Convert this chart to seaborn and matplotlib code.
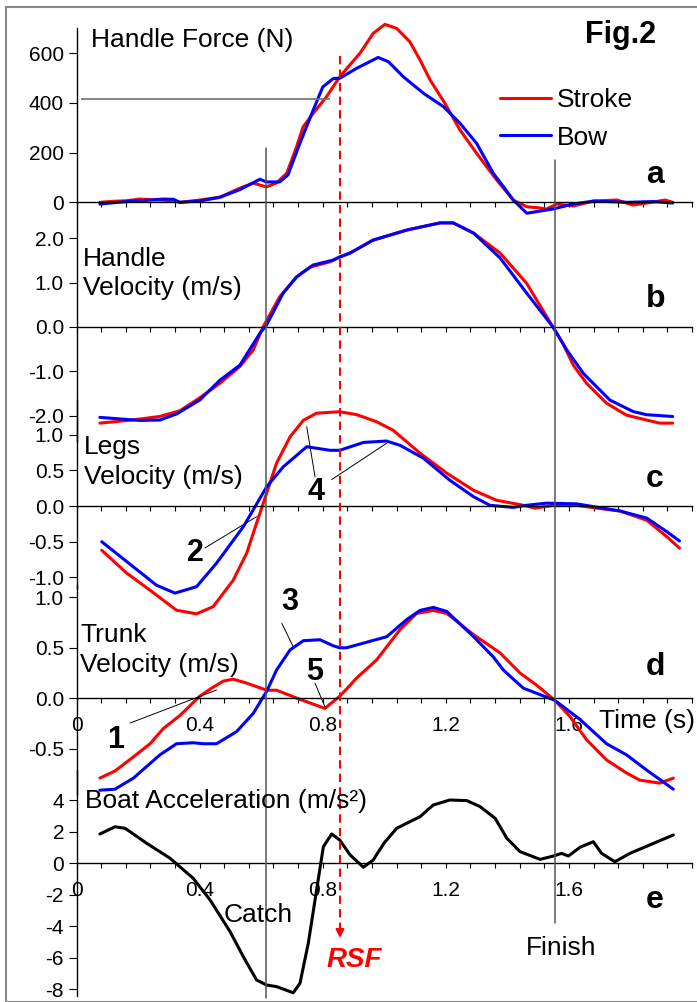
import numpy as np
import matplotlib
matplotlib.use("Agg")
import matplotlib.pyplot as plt
import seaborn as sns
from matplotlib.lines import Line2D
from matplotlib.patches import Rectangle
from matplotlib.transforms import blended_transform_factory

# ---- data (time in s) ----
force_t_stroke = [0.076, 0.12, 0.16, 0.206, 0.25, 0.29, 0.336, 0.4, 0.466, 0.531, 0.574, 0.617, 0.65, 0.683,
                  0.715, 0.736, 0.769, 0.813, 0.855, 0.921, 0.964, 1.002, 1.04, 1.083, 1.116, 1.149, 1.197,
                  1.246, 1.3, 1.365, 1.419, 1.463, 1.5, 1.527, 1.56, 1.613, 1.68, 1.756, 1.808, 1.873,
                  1.912, 1.937]
force_stroke = [0, 4, 6, 13, 10, 8, 0, 9, 21, 57, 77, 62, 78, 117, 223, 303, 358, 426, 505, 600, 680,
                716, 700, 646, 573, 492, 398, 291, 197, 90, 9, -18, -22, -27, -7, -15, 5, 9, -11, 1, 9, 0]
force_t_bow = [0.076, 0.12, 0.17, 0.23, 0.282, 0.315, 0.336, 0.4, 0.466, 0.531, 0.596, 0.617, 0.66, 0.687,
               0.726, 0.769, 0.8, 0.834, 0.855, 0.91, 0.98, 1.013, 1.062, 1.127, 1.192, 1.246, 1.3, 1.354,
               1.387, 1.419, 1.463, 1.548, 1.613, 1.68, 1.79, 1.873, 1.937]
force_bow = [-7, -2, 4, 8, 13, 12, 0, 5, 20, 51, 93, 82, 82, 110, 238, 371, 464, 498, 499, 539, 583, 566,
             505, 439, 385, 318, 237, 117, 63, 9, -44, -27, -7, 5, 0, 3, -3]
force_avg = 416

hv_t_stroke = [0.076, 0.18, 0.27, 0.336, 0.4, 0.466, 0.531, 0.574, 0.606, 0.66, 0.715, 0.758, 0.823, 0.855,
               0.889, 0.963, 1.074, 1.181, 1.224, 1.29, 1.376, 1.462, 1.548, 1.58, 1.614, 1.657, 1.722,
               1.787, 1.852, 1.895, 1.937]
hv_stroke = [-2.17, -2.10, -2.02, -1.89, -1.6, -1.27, -0.89, -0.52, 0.0, 0.68, 1.13, 1.35, 1.47, 1.58, 1.67,
             1.96, 2.19, 2.35, 2.35, 2.12, 1.67, 0.99, 0.0, -0.37, -0.86, -1.27, -1.72, -1.99, -2.10, -2.17,
             -2.17]
hv_t_bow = [0.076, 0.206, 0.271, 0.326, 0.4, 0.466, 0.531, 0.596, 0.617, 0.671, 0.715, 0.769, 0.834, 0.855,
            0.889, 0.963, 1.074, 1.181, 1.224, 1.29, 1.376, 1.462, 1.548, 1.593, 1.647, 1.733, 1.809, 1.852,
            1.937]
hv_bow = [-2.04, -2.11, -2.10, -1.96, -1.65, -1.2, -0.86, -0.14, 0.04, 0.76, 1.13, 1.4, 1.51, 1.58, 1.67,
          1.96, 2.19, 2.35, 2.35, 2.12, 1.56, 0.77, 0.0, -0.52, -1.05, -1.65, -1.91, -1.98, -2.02]

legs_t_stroke = [0.082, 0.163, 0.239, 0.325, 0.39, 0.444, 0.509, 0.553, 0.585, 0.607, 0.65, 0.694, 0.737,
                 0.78, 0.855, 0.91, 0.975, 1.029, 1.116, 1.203, 1.29, 1.365, 1.452, 1.49, 1.55, 1.625, 1.69,
                 1.766, 1.853, 1.918, 1.959]
legs_stroke = [-0.62, -0.94, -1.18, -1.46, -1.51, -1.41, -1.04, -0.66, -0.24, 0.04, 0.60, 0.97, 1.20, 1.30,
               1.32, 1.28, 1.18, 1.06, 0.74, 0.46, 0.22, 0.08, 0.01, -0.03, 0.01, 0.01, -0.03, -0.07, -0.2,
               -0.43, -0.59]
legs_t_bow = [0.082, 0.184, 0.26, 0.32, 0.39, 0.455, 0.542, 0.618, 0.672, 0.748, 0.824, 0.855, 0.932, 1.007,
              1.051, 1.127, 1.213, 1.29, 1.343, 1.419, 1.462, 1.527, 1.625, 1.766, 1.853, 1.918, 1.959]
legs_bow = [-0.5, -0.85, -1.11, -1.22, -1.13, -0.80, -0.29, 0.27, 0.55, 0.83, 0.78, 0.78, 0.89, 0.91, 0.85,
            0.67, 0.36, 0.13, 0.01, -0.02, 0.01, 0.04, 0.03, -0.07, -0.17, -0.36, -0.49]

trunk_t_stroke = [0.076, 0.125, 0.185, 0.239, 0.282, 0.336, 0.4, 0.444, 0.477, 0.509, 0.553, 0.618, 0.65,
                  0.726, 0.807, 0.855, 0.889, 0.91, 0.975, 1.051, 1.105, 1.159, 1.203, 1.29, 1.376, 1.441,
                  1.495, 1.554, 1.603, 1.657, 1.722, 1.787, 1.83, 1.895, 1.939]
trunk_stroke = [-0.79, -0.72, -0.58, -0.45, -0.30, -0.17, 0.02, 0.11, 0.17, 0.19, 0.15, 0.08, 0.08, -0.01,
                -0.10, 0.02, 0.13, 0.20, 0.38, 0.68, 0.84, 0.87, 0.84, 0.63, 0.45, 0.25, 0.13, -0.02, -0.18,
                -0.41, -0.61, -0.74, -0.81, -0.84, -0.79]
trunk_t_bow = [0.076, 0.125, 0.185, 0.271, 0.325, 0.379, 0.412, 0.455, 0.52, 0.574, 0.618, 0.65, 0.694,
               0.737, 0.791, 0.834, 0.855, 0.877, 1.008, 1.073, 1.116, 1.159, 1.203, 1.29, 1.354, 1.387,
               1.419, 1.452, 1.554, 1.636, 1.722, 1.787, 1.852, 1.939]
trunk_bow = [-0.91, -0.90, -0.79, -0.56, -0.45, -0.44, -0.45, -0.45, -0.33, -0.15, 0.07, 0.28, 0.48, 0.57,
             0.58, 0.52, 0.50, 0.50, 0.61, 0.78, 0.87, 0.90, 0.86, 0.61, 0.41, 0.28, 0.19, 0.10, -0.02, -0.21,
             -0.45, -0.56, -0.71, -0.90]

acc_t = [0.076, 0.125, 0.158, 0.228, 0.304, 0.379, 0.434, 0.499, 0.542, 0.585, 0.618, 0.65, 0.704, 0.726,
         0.753, 0.78, 0.802, 0.829, 0.855, 0.889, 0.932, 0.964, 0.98, 1.0, 1.04, 1.083, 1.116, 1.159, 1.213,
         1.268, 1.311, 1.36, 1.398, 1.441, 1.506, 1.549, 1.576, 1.598, 1.636, 1.679, 1.706, 1.749, 1.798,
         1.939]
acc = [1.86, 2.32, 2.22, 1.27, 0.32, -0.95, -2.33, -4.34, -5.93, -7.41, -7.73, -7.83, -8.22, -7.62, -5.08,
       -1.7, 1.05, 1.86, 1.48, 0.53, -0.25, 0.21, 0.7, 1.3, 2.22, 2.64, 2.96, 3.7, 4.02, 3.98, 3.6, 2.86,
       1.59, 0.74, 0.25, 0.46, 0.63, 0.46, 1.02, 1.37, 0.63, 0.1, 0.63, 1.8]

catch_t = 0.617
finish_t = 1.553
rsf_t = 0.856

x_ticks = [0, 0.4, 0.8, 1.2, 1.6]
x_tick_labels = ['0', '0.4', '0.8', '1.2', '1.6']
force_ticks = [0, 200, 400, 600]
hv_ticks = [2.0, 1.0, 0.0, -1.0, -2.0]
legs_ticks = [1.0, 0.5, 0.0, -0.5, -1.0]
trunk_ticks = [1.0, 0.5, 0.0, -0.5]
acc_ticks = [4, 2, 0, -2, -4, -6, -8]

RED = '#FF0000'
BLUE = '#0000FF'

sns.set_theme(style='ticks')
plt.rcParams['font.family'] = ['Liberation Sans', 'DejaVu Sans']
plt.rcParams['text.color'] = 'black'
plt.rcParams['xtick.color'] = 'black'
plt.rcParams['ytick.color'] = 'black'
plt.rcParams['xtick.labelcolor'] = 'black'
plt.rcParams['ytick.labelcolor'] = 'black'

W, H = 697, 1002
X0, X1 = 76.5, 692.1
fig = plt.figure(figsize=(W / 100, H / 100), dpi=100)


def fy(py):
    return 1 - py / H


def add_panel(ylim, zero_px, ppu, yticks, fmt, xlabels=False):
    pb = zero_px - ylim[0] * ppu
    pt = zero_px - ylim[1] * ppu
    ax = fig.add_axes([X0 / W, fy(pb), (X1 - X0) / W, (pb - pt) / H])
    ax.patch.set_visible(False)
    ax.set_xlim(0, 2.0)
    ax.set_ylim(*ylim)
    for s in ['top', 'right']:
        ax.spines[s].set_visible(False)
    ax.spines['bottom'].set_position(('data', 0))
    for s in ['left', 'bottom']:
        ax.spines[s].set_linewidth(1.0)
        ax.spines[s].set_color('black')
    ax.set_xticks(x_ticks)
    ax.set_xticks(np.arange(0, 2.0001, 0.08), minor=True)
    ax.set_xticklabels(x_tick_labels)
    ax.set_yticks(yticks)
    ax.set_yticklabels([fmt.format(v) for v in yticks])
    ax.tick_params(axis='x', which='both', direction='out', length=3.6, width=0.8, pad=9,
                   labelsize=15, labelbottom=xlabels, color='black', labelcolor='black')
    ax.tick_params(axis='y', direction='out', length=6, width=0.8, pad=3, labelsize=15,
                   color='black', labelcolor='black')
    return ax


ax_a = add_panel((0, 700), 202.3, 0.2485, force_ticks, '{:d}')
ax_b = add_panel((-2.57, 2.8), 327, 44.3, hv_ticks, '{:.1f}')
ax_c = add_panel((-1.15, 1.48), 506, 71.4, legs_ticks, '{:.1f}')
ax_d = add_panel((-0.95, 1.12), 698.3, 101, trunk_ticks, '{:.1f}', xlabels=True)
ax_e = add_panel((-8.4, 5.9), 863.3, 15.75, acc_ticks, '{:d}', xlabels=True)

pairs = [(ax_a, force_t_stroke, force_stroke, force_t_bow, force_bow),
         (ax_b, hv_t_stroke, hv_stroke, hv_t_bow, hv_bow),
         (ax_c, legs_t_stroke, legs_stroke, legs_t_bow, legs_bow),
         (ax_d, trunk_t_stroke, trunk_stroke, trunk_t_bow, trunk_bow)]
for ax, ts, vs, tb, vb in pairs:
    sns.lineplot(x=ts, y=vs, ax=ax, color=RED, linewidth=2.2, clip_on=False)
    sns.lineplot(x=tb, y=vb, ax=ax, color=BLUE, linewidth=2.2, clip_on=False)
sns.lineplot(x=acc_t, y=acc, ax=ax_e, color='black', linewidth=2.2, clip_on=False)
for ax in [ax_a, ax_b, ax_c, ax_d, ax_e]:
    ax.set_xlabel('')
    ax.set_ylabel('')

# average force line
ax_a.hlines(force_avg, 0.015, 0.824, color='#707070', lw=1.2, clip_on=False)

# catch / finish / RSF markers
trans = blended_transform_factory(ax_a.transData, fig.transFigure)
fig.add_artist(Line2D([catch_t, catch_t], [fy(148), fy(998)], transform=trans, color='#555555', lw=1.1))
fig.add_artist(Line2D([finish_t, finish_t], [fy(160), fy(923)], transform=trans, color='#555555', lw=1.1))
fig.add_artist(Line2D([rsf_t, rsf_t], [fy(56), fy(928)], transform=trans, color=RED, lw=1.5,
                      dashes=(4, 2.5)))
ax_a.annotate('', xy=(rsf_t, fy(938)), xycoords=trans, xytext=(rsf_t, fy(926)), textcoords=trans,
              arrowprops=dict(arrowstyle='-|>', color=RED, lw=1.5, mutation_scale=12, shrinkA=0, shrinkB=0),
              annotation_clip=False)

# leader lines
leaders = [(ax_d, (0.174, -0.245), (0.455, 0.082)),
           (ax_c, (0.417, -0.588), (0.585, -0.15)),
           (ax_d, (0.667, 0.743), (0.704, 0.511)),
           (ax_c, (0.775, 0.41), (0.748, 1.11)),
           (ax_c, (0.829, 0.37), (1.008, 0.88)),
           (ax_d, (0.775, 0.149), (0.807, -0.083))]
for ax, p0, p1 in leaders:
    ax.plot([p0[0], p1[0]], [p0[1], p1[1]], color='black', lw=0.7, clip_on=False)


def ftext(px, py, s, size=19, **kw):
    kw.setdefault('color', 'black')
    fig.text(px / W, fy(py), s, fontsize=size, va='baseline', ha='left', **kw)


ftext(91, 46.7, 'Handle Force (N)')
ftext(83, 265.7, 'Handle')
ftext(83, 295, 'Velocity (m/s)')
ftext(84, 454.3, 'Legs')
ftext(84, 484, 'Velocity (m/s)')
ftext(80, 642.3, 'Trunk')
ftext(80, 671.7, 'Velocity (m/s)')
ftext(85, 808.3, 'Boat Acceleration (m/s²)')
ftext(599, 727.7, 'Time (s)')
ftext(224, 921.7, 'Catch')
ftext(526, 955, 'Finish')
ftext(327, 966.7, 'RSF', size=20, color=RED, fontweight='bold', fontstyle='italic')
ftext(585, 42.7, 'Fig.2', size=22, fontweight='bold')
for lab, py in [('a', 183), ('b', 307), ('c', 486.7), ('d', 675), ('e', 908)]:
    ftext(646, py, lab, size=23, fontweight='bold')
for lab, px, py in [('1', 107, 748.3), ('2', 187, 560.7), ('3', 281, 610), ('4', 307, 500),
                    ('5', 306, 680)]:
    ftext(px, py, lab, size=22, fontweight='bold')

handles = [Line2D([], [], color=RED, lw=2.2), Line2D([], [], color=BLUE, lw=2.2)]
leg = fig.legend(handles, ['Stroke', 'Bow'], loc='upper left', bbox_to_anchor=(500 / W, fy(88)),
                 frameon=False, fontsize=19, handlelength=1.93, handletextpad=0.22, labelspacing=0.52,
                 borderpad=0, borderaxespad=0)
for t in leg.get_texts():
    t.set_color('black')

# outer frame
fig.add_artist(Rectangle((6 / W, 0), 1, fy(7), transform=fig.transFigure, fill=False,
                         edgecolor='#888888', lw=1.5))

fig.savefig('out.png', dpi=100)
